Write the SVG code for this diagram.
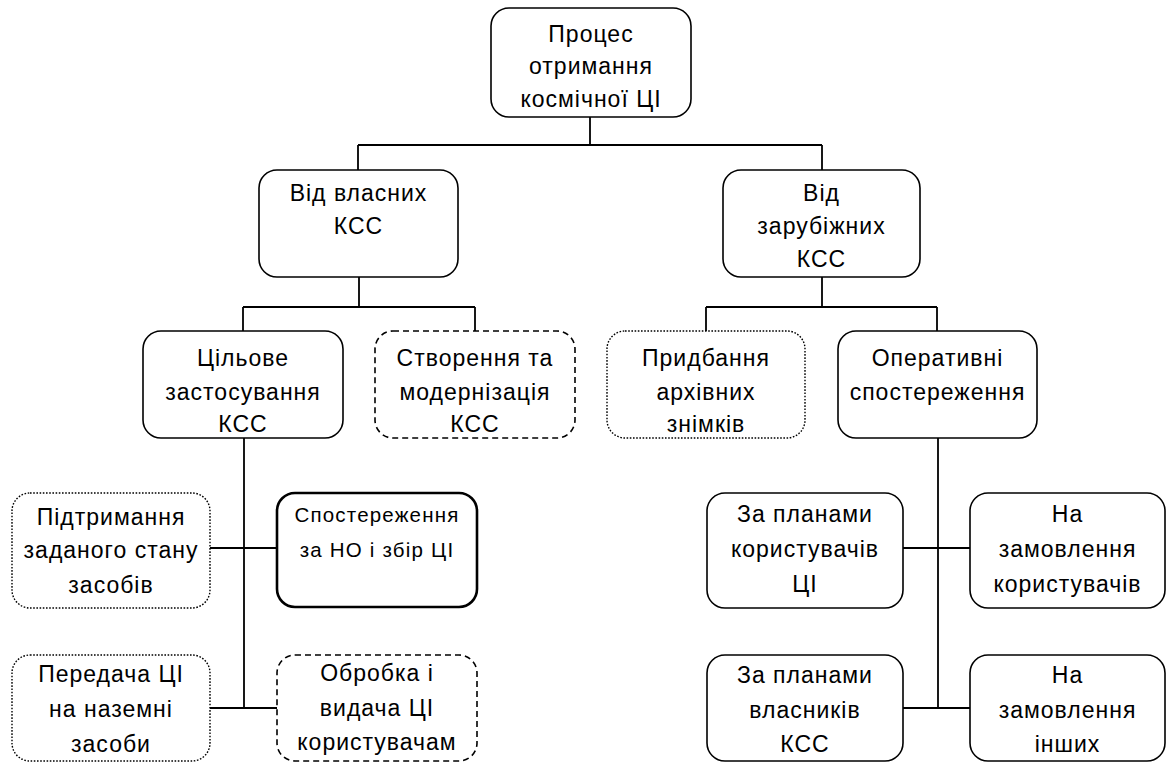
<svg xmlns="http://www.w3.org/2000/svg" width="1167" height="762" viewBox="0 0 1167 762">
<style>
.b{fill:#fff;stroke:#000;stroke-width:1.6}
.dash{stroke-dasharray:6 4}
.dot{stroke-dasharray:1.6 1.6;stroke-width:1.4}
.bold{stroke-width:2.6}
.c{fill:none;stroke:#000;stroke-width:1.8}
text{font-family:"Liberation Sans",Arial,sans-serif;font-size:23px;fill:#000;text-anchor:middle;letter-spacing:1px}
.s{font-size:20.5px;letter-spacing:1.2px}
</style>
<rect width="1167" height="762" fill="#fff"/>
<g id="connectors">
<path class="c" d="M590 117V145M358 145H822M358 145V170M822 145V170"/>
<path class="c" d="M359 277V307M243 307H475M243 307V331M475 307V331"/>
<path class="c" d="M822 277V307M706 307H937M706 307V331M937 307V331"/>
<path class="c" d="M244 438V708M210 548H277M210 708H277"/>
<path class="c" d="M938 438V708M903 548H970M903 708H970"/>
</g>
<g id="n0"><rect class="b" x="491" y="8" width="200" height="109" rx="18"/>
<text x="591" y="42">Процес</text><text x="591" y="74">отримання</text><text x="591" y="107">космічної ЦІ</text></g>
<g id="n1"><rect class="b" x="259" y="170" width="199" height="107" rx="18"/>
<text x="358.5" y="201">Від власних</text><text x="358.5" y="234">КСС</text></g>
<g id="n2"><rect class="b" x="723" y="170" width="197" height="107" rx="18"/>
<text x="821.5" y="201">Від</text><text x="821.5" y="234">зарубіжних</text><text x="821.5" y="267">КСС</text></g>
<g id="n3"><rect class="b" x="143" y="331" width="200" height="107" rx="18"/>
<text x="243" y="366">Цільове</text><text x="243" y="400">застосування</text><text x="243" y="432">КСС</text></g>
<g id="n4"><rect class="b dash" x="375" y="331" width="200" height="107" rx="18"/>
<text x="475" y="366">Створення та</text><text x="475" y="400">модернізація</text><text x="475" y="432">КСС</text></g>
<g id="n5"><rect class="b dot" x="607" y="331" width="198" height="107" rx="18"/>
<text x="706" y="366">Придбання</text><text x="706" y="400">архівних</text><text x="706" y="432">знімків</text></g>
<g id="n6"><rect class="b" x="838" y="331" width="199" height="107" rx="18"/>
<text x="937.5" y="366">Оперативні</text><text x="937.5" y="400">спостереження</text></g>
<g id="n7"><rect class="b dot" x="12" y="493" width="198" height="115" rx="18"/>
<text x="111" y="525">Підтримання</text><text x="111" y="558">заданого стану</text><text x="111" y="593">засобів</text></g>
<g id="n8"><rect class="b bold" x="277" y="493" width="200" height="114" rx="18"/>
<text class="s" x="377" y="522">Спостереження</text><text class="s" x="377" y="557">за НО і збір ЦІ</text></g>
<g id="n9"><rect class="b dot" x="12" y="655" width="198" height="106" rx="18"/>
<text x="111" y="682">Передача ЦІ</text><text x="111" y="717">на наземні</text><text x="111" y="752">засоби</text></g>
<g id="n10"><rect class="b dash" x="277" y="655" width="200" height="106" rx="18"/>
<text x="377" y="681">Обробка і</text><text x="377" y="716">видача ЦІ</text><text x="377" y="750">користувачам</text></g>
<g id="n11"><rect class="b" x="707" y="493" width="196" height="115" rx="18"/>
<text x="805" y="522">За планами</text><text x="805" y="557">користувачів</text><text x="805" y="592">ЦІ</text></g>
<g id="n12"><rect class="b" x="970" y="493" width="195" height="115" rx="18"/>
<text x="1067.5" y="522">На</text><text x="1067.5" y="557">замовлення</text><text x="1067.5" y="592">користувачів</text></g>
<g id="n13"><rect class="b" x="707" y="655" width="196" height="106" rx="18"/>
<text x="805" y="683">За планами</text><text x="805" y="718">власників</text><text x="805" y="752">КСС</text></g>
<g id="n14"><rect class="b" x="970" y="655" width="195" height="106" rx="18"/>
<text x="1067.5" y="683">На</text><text x="1067.5" y="718">замовлення</text><text x="1067.5" y="752">інших</text></g>
</svg>
